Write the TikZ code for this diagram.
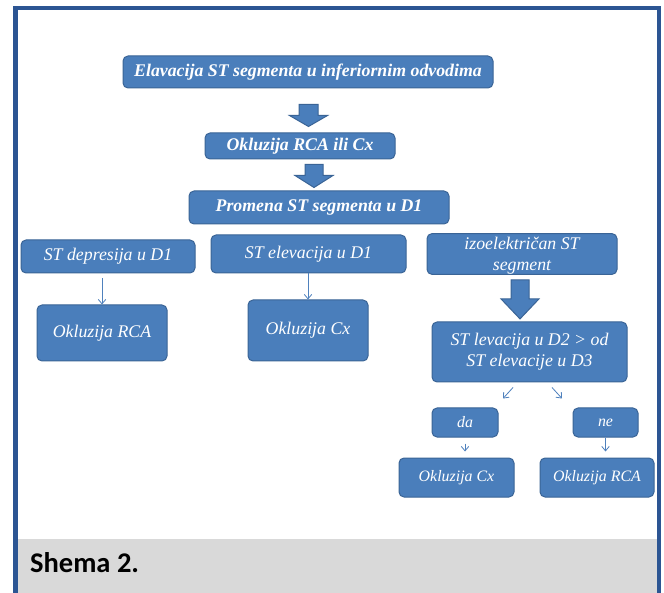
\documentclass[tikz,border=0pt]{standalone}
\usepackage{fontspec}
\setmainfont{Liberation Serif}
\newfontfamily\calib{Carlito}
\usetikzlibrary{arrows.meta,calc}
\definecolor{boxfill}{HTML}{4A7EBB}
\definecolor{boxline}{HTML}{3A6496}
\definecolor{frameblue}{HTML}{2C5593}
\definecolor{thinblue}{HTML}{4F81BD}
\definecolor{bandgray}{HTML}{D9D9D9}
\tikzset{pics/bigarr/.style n args={4}{code={\path[bigarrow] (-#1,0) -- (#1,0) -- (#1,#3) -- (#2,#3) -- (0,{#3+#4}) -- (-#2,#3) -- (-#1,#3) -- cycle;}}}
\begin{document}
\begin{tikzpicture}[x=1pt,y=-1pt,
 box/.style={draw=boxline, line width=1pt, fill=boxfill, rounded corners=5pt, text=white, font=\fontsize{17.8}{21}\selectfont\itshape, align=center, inner sep=0pt},
 bbox/.style={box, font=\fontsize{17.8}{21}\selectfont\bfseries\itshape},
 sbox/.style={box, font=\fontsize{15.9}{19}\selectfont\itshape},
 thinarr/.style={draw=thinblue, line width=0.8pt, -{Straight Barb[length=4.5pt,width=7.5pt]}},
 bigarrow/.style={draw=boxline, line width=1pt, fill=boxfill}]
\useasboundingbox (0,0) rectangle (664,593);
\fill[white] (0,0) rectangle (664,593);
\fill[bandgray] (17,539) rectangle (657,593);
\draw[frameblue, line width=4.5pt] (15.5,593) -- (15.5,8) -- (659,8) -- (659,593);
\node[font=\calib\fontsize{28.5}{30}\selectfont\bfseries, anchor=base west, inner sep=0pt] (cap) at (30,572) {Shema 2.};

\node[bbox, minimum width=370pt, minimum height=32pt] (b1) at (308,72) {Elavacija ST segmenta u inferiornim odvodima};
\node[bbox, minimum width=190pt, minimum height=26pt] (b2) at (300,146) {Okluzija RCA ili Cx};
\node[bbox, minimum width=260pt, minimum height=33pt] (b3) at (319,207.5) {Promena ST segmenta u D1};
\node[box, minimum width=174pt, minimum height=33pt] (b4) at (108,256.5) {ST depresija u D1};
\node[box, minimum width=195pt, minimum height=38pt] (b5) at (308.5,254) {ST elevacija u D1};
\node[box, minimum width=190pt, minimum height=38pt] (b6) at (522,254) {\rule{0pt}{16pt}izoelektričan ST\\segment};
\node[box, minimum width=130pt, minimum height=56pt] (b7) at (102,333) {Okluzija RCA};
\node[box, minimum width=120pt, minimum height=61pt] (b8) at (308,330.5) {Okluzija Cx};
\node[box, minimum width=195pt, minimum height=60pt] (b9) at (529.5,352) {ST levacija u D2 > od\\ST elevacije u D3};
\node[sbox, minimum width=66pt, minimum height=29pt] (b10) at (465,422.5) {da};
\node[sbox, minimum width=65pt, minimum height=29pt] (b11) at (605.5,422.5) {ne};
\node[sbox, minimum width=115pt, minimum height=39pt] (b12) at (456.5,477.5) {Okluzija Cx};
\node[sbox, minimum width=114pt, minimum height=39pt] (b13) at (597,477.5) {Okluzija RCA};

\pic at ($(b1.south)+(0.5,16)$) {bigarr={9.5}{19}{11}{11}};
\pic at ($(b2.south)+(14,5)$) {bigarr={9}{19}{11}{12}};
\pic at ($(b6.south)+(-2,5)$) {bigarr={9}{19}{19}{20}};

\draw[thinarr, shorten <=5pt] (b7.north |- b4.south) -- (b7.north);
\draw[thinarr] (b5.south -| b8.north) -- (b8.north);
\draw[thinarr] ($(b9.south)+(-16.5,5)$) -- ++(-10,11);
\draw[thinarr] ($(b9.south)+(22.5,5)$) -- ++(10,11);
\draw[thinarr, shorten <=6pt, shorten >=6pt] (b10.south) -- (b10.south |- b12.north);
\draw[thinarr, shorten >=6pt] (b11.south) -- (b11.south |- b13.north);
\end{tikzpicture}
\end{document}
